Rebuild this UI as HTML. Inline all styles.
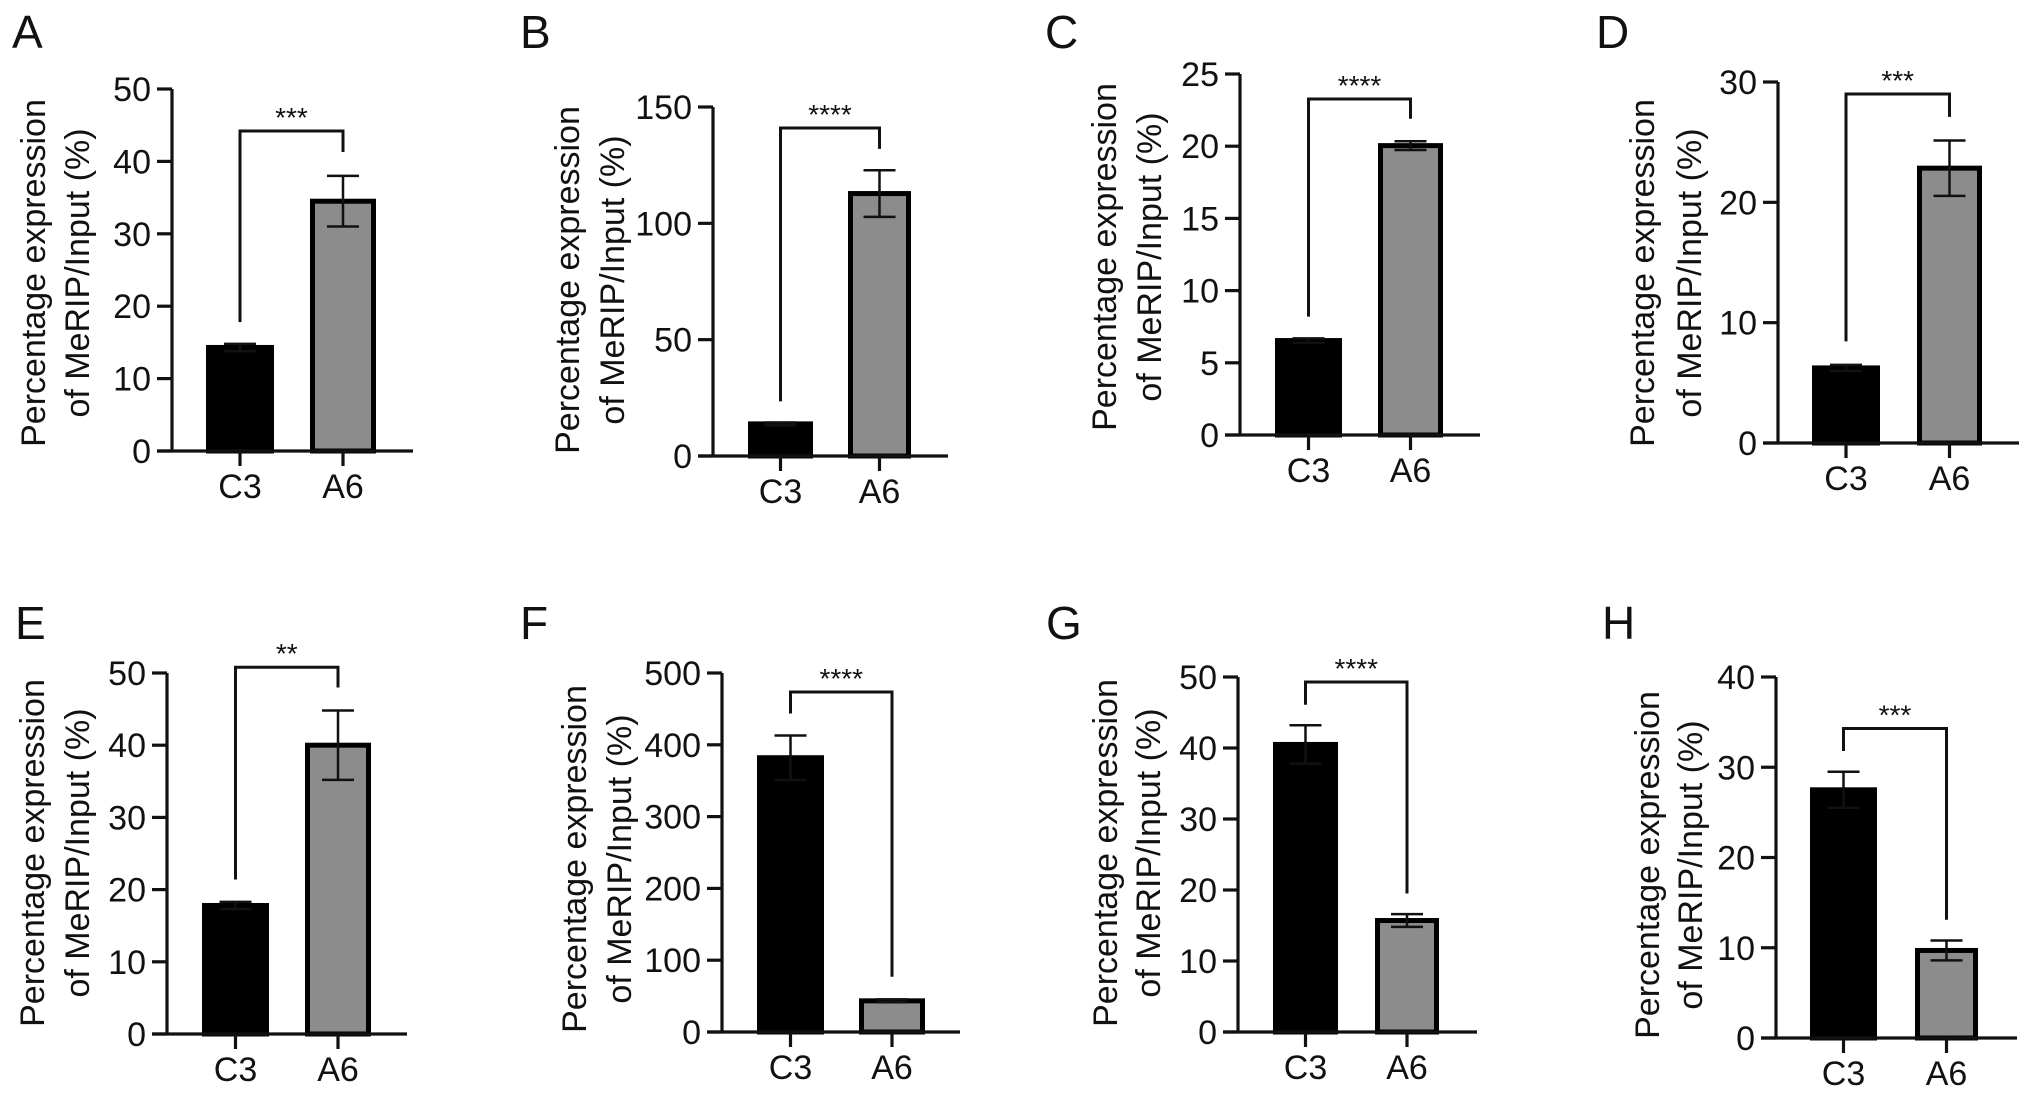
<!DOCTYPE html>
<html><head><meta charset="utf-8">
<style>
html,body{margin:0;padding:0;background:#fff;}
svg{display:block;}
text{font-family:"Liberation Sans",Arial,sans-serif;fill:#111;}
</style></head>
<body>
<svg id="fig" width="2032" height="1099" viewBox="0 0 2032 1099" xmlns="http://www.w3.org/2000/svg"></svg>
<script>
const panelLetters = ['A','B','C','D','E','F','G','H'];
const categories = ['C3','A6'];
const yMax = [50,150,25,30,50,500,50,40];
const tickStep = [10,50,5,10,10,100,10,10];
const c3Mean = [14.3,13.8,6.54,6.24,17.8,382,40.5,27.5];
const c3Err = [0.5,0.6,0.15,0.25,0.5,31,2.7,2.0];
const a6Mean = [34.5,112.8,20.04,22.84,40.0,43.4,15.7,9.7];
const a6Err = [3.5,10,0.3,2.3,4.8,2,0.9,1.1];
const bracketTop = [44.2,141,23.27,29.0,50.8,473.5,49.3,34.3];
const legC3 = [17.8,23.5,8.2,8.45,21.4,443.6,46.1,31.8];
const legA6 = [41.3,132,21.9,27.1,48,77,19.5,13.1];
const sigLabels = ['***','****','****','***','**','****','****','***'];

// layout (pixels)
const layout = [
 {ax:172,top:89,zero:451,xEnd:413,bars:[[206,274],[310,376]],lx:12,ly:48,t1:34,t2:78,ty:273},
 {ax:713,top:107,zero:456,xEnd:948,bars:[[748,813],[848,911]],lx:520,ly:48,t1:568,t2:613,ty:280},
 {ax:1240,top:74,zero:435,xEnd:1480,bars:[[1275,1342],[1378,1443]],lx:1045,ly:48,t1:1105,t2:1150,ty:257},
 {ax:1778,top:82,zero:443,xEnd:2019,bars:[[1812,1880],[1917,1982]],lx:1596,ly:48,t1:1643,t2:1690,ty:273},
 {ax:167,top:673,zero:1034,xEnd:407,bars:[[202,269],[305,371]],lx:15,ly:639,t1:33,t2:78,ty:853},
 {ax:722,top:673,zero:1032,xEnd:960,bars:[[757,824],[859,925]],lx:520,ly:639,t1:575,t2:620,ty:859},
 {ax:1238,top:677,zero:1032,xEnd:1477,bars:[[1273,1338],[1375,1439]],lx:1046,ly:639,t1:1106,t2:1149,ty:853},
 {ax:1776,top:677,zero:1038,xEnd:2017,bars:[[1810,1877],[1915,1978]],lx:1602,ly:639,t1:1648,t2:1691,ty:865}
];

const NS='http://www.w3.org/2000/svg';
const svg=document.getElementById('fig');
function mk(tag, parent, attrs){
  const e=document.createElementNS(NS,tag);
  for(const k in attrs) e.setAttribute(k, attrs[k]);
  parent.appendChild(e);
  return e;
}

for(let p=0;p<8;p++){
  const L=layout[p];
  const g=mk('g',svg,{});
  
  
  const y=v=>L.zero-(v/yMax[p])*(L.zero-L.top);
  const means=[c3Mean[p],a6Mean[p]];
  const errs=[c3Err[p],a6Err[p]];
  const cx=[(L.bars[0][0]+L.bars[0][1])/2,(L.bars[1][0]+L.bars[1][1])/2];

  const letter=mk('text',g,{x:L.lx,y:L.ly,'font-size':46});
  
  
  letter.textContent=panelLetters[p];

  const t1=mk('text',g,{x:L.t1,y:L.ty,'font-size':34,'text-anchor':'middle','dominant-baseline':'central',transform:`rotate(-90 ${L.t1} ${L.ty})`});
  
  
  t1.textContent='Percentage expression';
  const t2=mk('text',g,{x:L.t2,y:L.ty,'font-size':34,'text-anchor':'middle','dominant-baseline':'central',transform:`rotate(-90 ${L.t2} ${L.ty})`});
  
  
  t2.textContent='of MeRIP/Input (%)';

  for(let i=0;i<2;i++){
    const b=L.bars[i];
    const r=mk('rect',g,{x:b[0]+2.5,y:y(means[i]),width:b[1]-b[0]-5,height:L.zero-y(means[i]),fill:i===0?'#000':'#8c8c8c',stroke:'#000','stroke-width':5});
    
    
    const e=mk('path',g,{d:`M${cx[i]} ${y(means[i]-errs[i])}V${y(means[i]+errs[i])}M${cx[i]-16} ${y(means[i]+errs[i])}H${cx[i]+16}M${cx[i]-16} ${y(means[i]-errs[i])}H${cx[i]+16}`,stroke:'#111','stroke-width':2.5,fill:'none'});
    
    
  }

  const axes=mk('path',g,{d:`M${L.ax} ${L.top}V${L.zero}M${L.ax-15} ${L.zero}H${L.xEnd}`,stroke:'#111','stroke-width':3.2,fill:'none'});
  
  
  for(let v=0; v<=yMax[p]+1e-9; v+=tickStep[p]){
    const yy=y(v);
    const tk=mk('line',g,{x1:L.ax-15,x2:L.ax,y1:yy,y2:yy,stroke:'#111','stroke-width':3.2});
    
    
    const tl=mk('text',g,{x:L.ax-21,y:yy+12,'font-size':34,'text-anchor':'end'});
    
    
    tl.textContent=String(v);
  }
  for(let i=0;i<2;i++){
    const tk=mk('line',g,{x1:cx[i],x2:cx[i],y1:L.zero,y2:L.zero+15,stroke:'#111','stroke-width':3.2});
    
    
    const cl=mk('text',g,{x:cx[i],y:L.zero+47,'font-size':34,'text-anchor':'middle'});
    
    
    cl.textContent=categories[i];
  }

  const by=y(bracketTop[p]);
  const br=mk('path',g,{d:`M${cx[0]} ${y(legC3[p])}V${by}H${cx[1]}V${y(legA6[p])}`,stroke:'#111','stroke-width':3,fill:'none'});
  
  
  const st=mk('text',g,{x:(cx[0]+cx[1])/2,y:by-4,'font-size':28,'text-anchor':'middle'});
  
  
  st.textContent=sigLabels[p];
}
</script>
</body></html>
